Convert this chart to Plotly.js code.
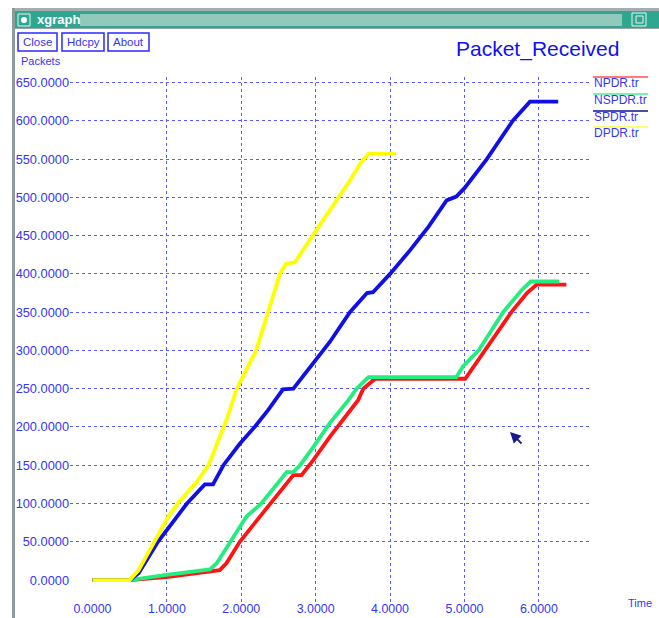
<!DOCTYPE html>
<html>
<head>
<meta charset="utf-8">
<script src="https://cdn.plot.ly/plotly-3.0.1.min.js"></script>
<style>
  html, body { margin: 0; padding: 0; background: #ffffff; }
  #chart { width: 659px; height: 618px; }
</style>
</head>
<body>
<div id="chart"></div>
<script>
// ---------------- data ----------------
const seriesNames = ['NPDR.tr', 'NSPDR.tr', 'SPDR.tr', 'DPDR.tr'];

const timeNPDR = [0, 0.5, 1.02, 1.71, 1.80, 1.98, 2.21, 2.39, 2.61, 2.70, 2.81, 2.97, 3.19, 3.57, 3.64, 3.80, 5.01, 5.28, 5.63, 5.84, 5.97, 6.37];
const NPDR     = [0, 0,    4,   13,   22,   50,   78,  100,  126,  137,  137,  157,  187,  235,  250,  263,  263,  300,  350,  375,  386,  386];

const timeNSPDR = [0, 0.5, 1.02, 1.58, 1.67, 1.85, 2.07, 2.27, 2.52, 2.61, 2.70, 2.79, 2.97, 3.19, 3.44, 3.55, 3.71, 4.89, 4.98, 5.19, 5.52, 5.77, 5.89, 6.27];
const NSPDR     = [0, 0,    7,   14,   22,   50,   83,  100,  131,  141,  141,  150,  174,  205,  235,  250,  265,  265,  279,  300,  350,  379,  390,  390];

const timeSPDR = [0, 0.5, 0.62, 0.88, 1.27, 1.51, 1.62, 1.76, 1.98, 2.18, 2.36, 2.56, 2.70, 2.99, 3.19, 3.46, 3.69, 3.77, 4.00, 4.27, 4.52, 4.76, 4.89, 5.00, 5.30, 5.65, 5.88, 6.26];
const SPDR     = [0, 0,    9,   50,  100,  125,  125,  150,  178,  200,  222,  249,  250,  287,  311,  350,  375,  376,  400,  431,  462,  496,  501,  512,  550,  600,  625,  625];

const timeDPDR = [0, 0.5, 0.62, 1.02, 1.18, 1.40, 1.56, 1.67, 1.80, 1.94, 2.20, 2.36, 2.52, 2.60, 2.72, 2.96, 3.31, 3.46, 3.60, 3.71, 4.08];
const DPDR     = [0, 0,   13,   83,  104,  128,  150,  178,  209,  250,  300,  350,  400,  413,  415,  450,  500,  522,  544,  557,  557];

const xTickVals = [0, 1, 2, 3, 4, 5, 6];
const xTickText = ['0.0000', '1.0000', '2.0000', '3.0000', '4.0000', '5.0000', '6.0000'];
const xGridVals = [1, 2, 3, 4, 5, 6];
const yTickVals = [0, 50, 100, 150, 200, 250, 300, 350, 400, 450, 500, 550, 600, 650];
const yTickText = ['0.0000', '50.0000', '100.0000', '150.0000', '200.0000', '250.0000', '300.0000',
                   '350.0000', '400.0000', '450.0000', '500.0000', '550.0000', '600.0000', '650.0000'];
const yGridVals = [50, 100, 150, 200, 250, 300, 350, 400, 450, 500, 550, 600, 650];

const buttonLabels = ['Close', 'Hdcpy', 'About'];
const chartTitle = 'Packet_Received';
const windowTitle = 'xgraph';
const yAxisName = 'Packets';
const xAxisName = 'Time';

// ---------------- styling ----------------
const FONT = 'Liberation Sans, Arial, Helvetica, sans-serif';
const lineColors   = ['#ff1414', '#22ee80', '#1010e6', '#ffff00'];
const legendColors = ['#ff5050', '#44ee99', '#101090', '#ffff40'];
const textBlue = '#3535f5';
const gridBlue = '#5a5aff';

const W = 659, H = 618;
const M = { l: 70, r: 67, t: 77, b: 15 };
const PW = W - M.l - M.r, PH = H - M.t - M.b;
const px = v => (v - M.l) / PW;          // pixel -> paper x
const py = v => (H - M.b - v) / PH;      // pixel -> paper y

const seriesX = [timeNPDR, timeNSPDR, timeSPDR, timeDPDR];
const seriesY = [NPDR, NSPDR, SPDR, DPDR];

const traces = seriesNames.map((n, i) => ({
  type: 'scatter', mode: 'lines', name: n,
  x: seriesX[i], y: seriesY[i],
  line: { color: lineColors[i], width: 3.8 },
  hoverinfo: 'skip', showlegend: false
}));
// carrier for the gridline-only overlay axes
traces.unshift({ type: 'scatter', mode: 'lines', x: [null], y: [null], xaxis: 'x2', yaxis: 'y2',
                 showlegend: false, hoverinfo: 'skip' });

const xRange = [-0.302, 6.714];
const yRange = [-30, 657.2];

const shapes = [];
const annotations = [];
function rectPx(x0, y0, x1, y1, fill, line, lw) {
  shapes.push({ type: 'rect', xref: 'paper', yref: 'paper', layer: 'above',
    x0: px(x0), x1: px(x1), y0: py(y1), y1: py(y0),
    fillcolor: fill, line: { color: line || fill, width: lw === undefined ? 0 : lw } });
}
function textPx(x, y, txt, size, color, anchor, bold) {
  annotations.push({ xref: 'paper', yref: 'paper', x: px(x), y: py(y), text: bold ? '<b>' + txt + '</b>' : txt,
    showarrow: false, xanchor: anchor || 'left', yanchor: 'middle', borderpad: 0,
    font: { family: FONT, size: size, color: color } });
}

// window chrome
rectPx(12, 8, 659, 11, '#a3aeae');
rectPx(12, 11, 659, 28, '#2fa68f');
rectPx(80, 14, 622, 26, '#93c9bd');
rectPx(12, 28, 659, 29, '#9aa6a6');
rectPx(12, 8, 15, 618, '#8d9b9d');
rectPx(18, 14, 30, 26, '#2fa68f', '#e8f4f0', 1);
shapes.push({ type: 'circle', xref: 'paper', yref: 'paper', layer: 'above',
  x0: px(21), x1: px(27), y0: py(23), y1: py(17), fillcolor: '#ffffff', line: { width: 0 } });
rectPx(632, 13, 646, 26, '#2fa68f', '#e8f4f0', 1);
rectPx(636, 16, 643, 23, '#2fa68f', '#e8f4f0', 1);
textPx(36, 19.5, windowTitle, 13, '#ffffff', 'left', true);

// buttons
const btnX = [[18, 57], [62, 104], [108, 149]];
buttonLabels.forEach((b, i) => {
  rectPx(btnX[i][0], 33, btnX[i][1], 51, '#ffffff', '#2a2aff', 1.5);
  textPx((btnX[i][0] + btnX[i][1]) / 2, 42, b, 11.5, textBlue, 'center');
});

// titles
textPx(455, 49, chartTitle, 21, '#1010f0', 'left');
textPx(20, 61, yAxisName, 11, textBlue, 'left');
textPx(627, 603, xAxisName, 11, textBlue, 'left');

// legend (line above each name, as xgraph draws it)
const legY = [83, 100, 117, 133];
seriesNames.forEach((n, i) => {
  shapes.push({ type: 'line', xref: 'paper', yref: 'paper', layer: 'above',
    x0: px(593), x1: px(648), y0: py(legY[i] - 6), y1: py(legY[i] - 6),
    line: { color: legendColors[i], width: 1.6 } });
  textPx(593, legY[i], n, 12, textBlue, 'left');
});

// mouse cursor seen in the reference
annotations.push({ xref: 'paper', yref: 'paper', x: px(510), y: py(432), ax: 13, ay: 13,
  showarrow: true, arrowhead: 2, arrowsize: 1.2, arrowwidth: 1.8, arrowcolor: '#1a1a90', text: '' });

const tickFont = { family: FONT, size: 12.8, color: textBlue };
const layout = {
  width: W, height: H, margin: M,
  paper_bgcolor: '#ffffff', plot_bgcolor: '#ffffff',
  font: { family: FONT, size: 12, color: textBlue },
  showlegend: false, hovermode: false,
  xaxis: { range: xRange, tickmode: 'array', tickvals: xTickVals, ticktext: xTickText,
           showgrid: false, zeroline: false, showline: false, ticks: '', ticklabelstandoff: -3,
           tickfont: { family: FONT, size: 12.4, color: textBlue }, fixedrange: true },
  yaxis: { range: yRange, tickmode: 'array', tickvals: yTickVals, ticktext: yTickText,
           showgrid: false, zeroline: false, showline: false, ticks: '',
           tickfont: tickFont, fixedrange: true },
  xaxis2: { overlaying: 'x', anchor: 'y', range: xRange, tickmode: 'array', tickvals: xGridVals,
            showgrid: true, gridcolor: gridBlue, gridwidth: 1, griddash: 'dot',
            showticklabels: false, zeroline: false, showline: false, ticks: '', fixedrange: true },
  yaxis2: { overlaying: 'y', anchor: 'x', side: 'left', range: yRange, tickmode: 'array', tickvals: yGridVals,
            showgrid: true, gridcolor: gridBlue, gridwidth: 1, griddash: 'dot',
            showticklabels: false, zeroline: false, showline: false, ticks: '', fixedrange: true },
  shapes: shapes,
  annotations: annotations
};

Plotly.newPlot('chart', traces, layout, { staticPlot: true, displayModeBar: false });
</script>
</body>
</html>
